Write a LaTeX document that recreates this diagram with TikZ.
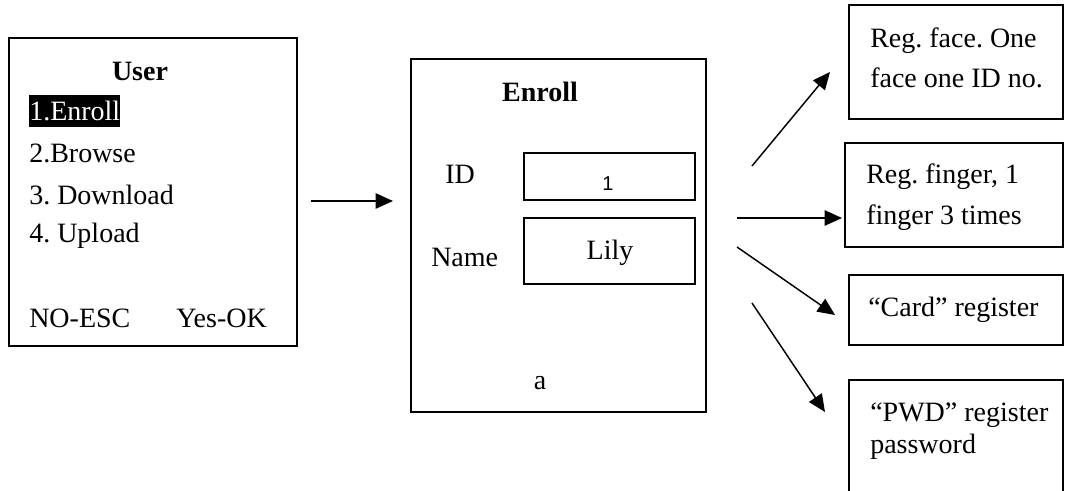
\documentclass[tikz,border=0pt]{standalone}
\usepackage{fontspec}
\setmainfont{Liberation Serif}
\newfontfamily\arialfont{Liberation Sans}
\usetikzlibrary{arrows.meta,fit}
\frenchspacing
\begin{document}
\begin{tikzpicture}[x=0.75pt,y=-0.75pt,
  frame/.style={draw, line width=1.2pt, inner sep=0pt},
  area/.style={inner sep=0pt},
  txt/.style={inner sep=0pt, anchor=base west, font=\fontsize{21}{25}\selectfont},
  ctxt/.style={txt, anchor=base},
  title/.style={ctxt, font=\fontsize{21}{25}\selectfont\bfseries},
  link/.style={line width=1.1pt, -{Triangle[length=13pt,width=11.5pt]}}
]
\useasboundingbox (0,0) rectangle (1065,491);

% menu screen
\coordinate (u1) at (9,38);  \coordinate (u2) at (297,346);
\node[frame, fit=(u1)(u2)] (user) {};
\node[title] (usertitle) at (140,81) {User};
\node[txt, fill=black, text=white, text height=19.5pt, text depth=4.5pt] (m1) at (29,121) {1.Enroll};
\node[txt] (m2) at (29,163) {2.Browse};
\node[txt] (m3) at (29,205) {3. Download};
\node[txt] (m4) at (29,243) {4. Upload};
\node[txt] (esc) at (29,328) {NO-ESC};
\node[txt] (ok) at (176,328) {Yes-OK};

% enrolment screen
\coordinate (e1) at (411,59);  \coordinate (e2) at (706,412);
\node[frame, fit=(e1)(e2)] (enroll) {};
\node[title] (enrolltitle) at (540,102) {Enroll};
\node[txt] (idlbl) at (445,184) {ID};
\node[txt] (namelbl) at (431,267) {Name};
\coordinate (i1) at (524,153);  \coordinate (i2) at (695,200);
\node[frame, line width=1pt, fit=(i1)(i2)] (idfield) {};
\node[inner sep=0pt, anchor=base, font=\arialfont\fontsize{15}{18}\selectfont] (idval) at (608,191) {1};
\coordinate (n1) at (524,218);  \coordinate (n2) at (695,284);
\node[frame, line width=1pt, fit=(n1)(n2)] (namefield) {};
\node[ctxt] (nameval) at (610,260) {Lily};
\node[ctxt] (alpha) at (540,390) {a};

% registration options
\coordinate (f1) at (849,5);  \coordinate (f2) at (1063,119);
\node[frame, fit=(f1)(f2)] (face) {};
\node[txt] (face1) at (870,48) {Reg. face. One};
\node[txt] (face2) at (870,88) {face one ID no.};

\coordinate (g1) at (845,143);  \coordinate (g2) at (1063,247);
\node[frame, fit=(g1)(g2)] (finger) {};
\node[txt] (fing1) at (866,184) {Reg. finger, 1};
\node[txt] (fing2) at (866,225) {finger 3 times};

\coordinate (c1) at (849,275);  \coordinate (c2) at (1063,345);
\node[frame, fit=(c1)(c2)] (card) {};
\node[txt] (card1) at (868,317) {“Card” register};

\coordinate (p1) at (849,380);  \coordinate (p2) at (1063,491);
\node[area, fit=(p1)(p2)] (pwd) {};
\draw[line width=1.2pt] (pwd.south west) -- (pwd.north west) -- (pwd.north east) -- (pwd.south east);
\node[txt] (pwd1) at (870,422) {“PWD” register};
\node[txt] (pwd2) at (870,454) {password};

% connectors
\coordinate (s0) at (311,201);  \coordinate (t0) at (393,201);
\draw[link] (s0) -- (t0);
\coordinate (s1) at (752,166);  \coordinate (t1) at (830,72);
\draw[link] (s1) -- (t1);
\coordinate (s2) at (737,218);  \coordinate (t2) at (842,218);
\draw[link] (s2) -- (t2);
\coordinate (s3) at (737,247);  \coordinate (t3) at (835,315);
\draw[link] (s3) -- (t3);
\coordinate (s4) at (752,303);  \coordinate (t4) at (825,412);
\draw[link] (s4) -- (t4);
\end{tikzpicture}
\end{document}
